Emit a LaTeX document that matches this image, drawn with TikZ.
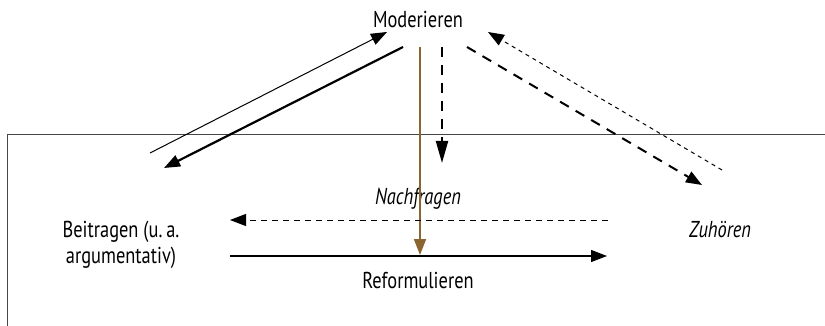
\documentclass[tikz,border=0pt]{standalone}
\usepackage{fontspec}
\setmainfont{PT Sans}[FakeStretch=0.8]
\usetikzlibrary{arrows.meta}
\definecolor{ochre}{RGB}{140,100,48}
\definecolor{framegray}{RGB}{70,70,70}

\begin{document}
\begin{tikzpicture}[x=0.5pt,y=-0.5pt,
    every node/.style={font=\fontsize{11.5}{13}\selectfont, inner sep=0pt},
    tip/.style={-{Triangle[length=8pt,width=6pt]}},
    longtip/.style={-{Triangle[length=11pt,width=6pt]}},
    bigdash/.style={line width=1pt, dash pattern=on 5pt off 4pt},
    smalldash/.style={line width=0.5pt, dash pattern=on 2pt off 2pt},
    middash/.style={line width=0.5pt, dash pattern=on 3pt off 2.5pt}]
        \useasboundingbox (0,0) rectangle (825,326);
        % Rahmen
        \draw[framegray, line width=0.9pt] (825,134.5) -- (7.5,134.5) -- (7.5,326);
        % Texte
        \node (mod) at (418,19) {Moderieren};
        \node (nach) at (418,199) {\itshape Nachfragen};
        \node (ref) at (418,280) {Reformulieren};
        \node[align=center] (bei) at (121,245) {Beitragen (u.\,a.\\argumentativ)};
        \node (zu) at (720,230) {\itshape Zuhören};
        % Endpunkte
        \coordinate (a1) at (150,153); \coordinate (a2) at (387,32);
        \coordinate (b1) at (403,47);  \coordinate (b2) at (164,168);
        \coordinate (c1) at (420,47);  \coordinate (c2) at (420,255);
        \coordinate (d1) at (442,47);  \coordinate (d2) at (442,163);
        \coordinate (e1) at (467,47);  \coordinate (e2) at (702,185);
        \coordinate (f1) at (722,170); \coordinate (f2) at (488,32);
        \coordinate (g1) at (608,220); \coordinate (g2) at (230,220);
        \coordinate (h1) at (230,256); \coordinate (h2) at (607,256);
        % Pfeile
        \draw[tip, line width=0.5pt] (a1) -- (a2);
        \draw[tip, line width=1.1pt] (b1) -- (b2);
        \draw[tip, ochre, line width=0.9pt] (c1) -- (c2);
        \draw[longtip, bigdash] (d1) -- (d2);
        \draw[tip, bigdash] (e1) -- (e2);
        \draw[tip, smalldash] (f1) -- (f2);
        \draw[tip, middash] (g1) -- (g2);
        \draw[tip, line width=0.65pt] (h1) -- (h2);
    \end{tikzpicture}
\end{document}
